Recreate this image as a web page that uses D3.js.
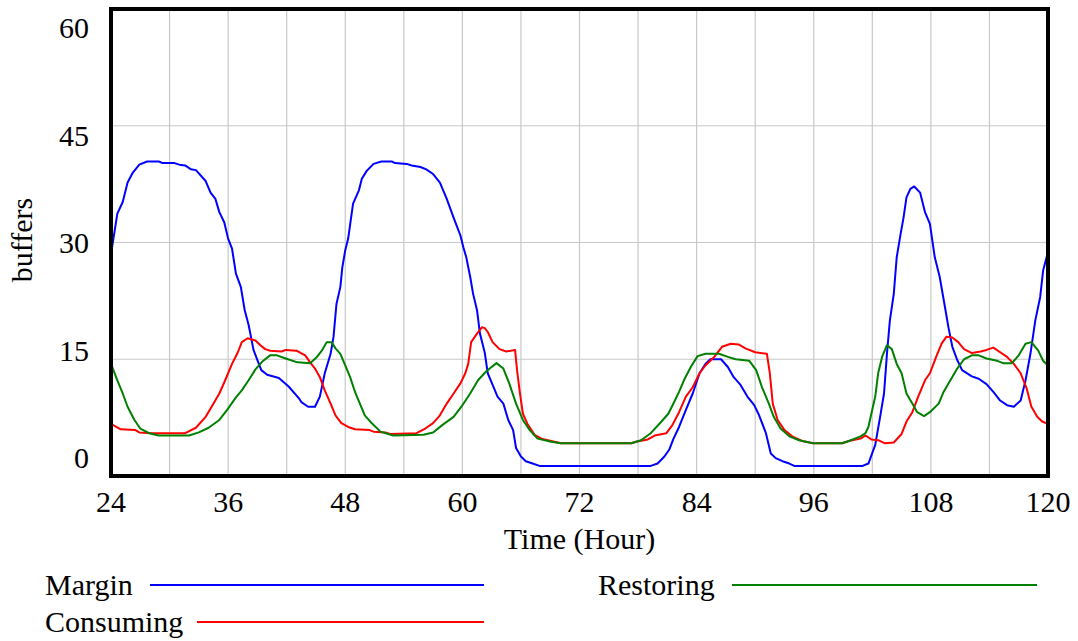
<!DOCTYPE html>
<html>
<head>
<meta charset="utf-8">
<script src="https://cdn.jsdelivr.net/npm/d3@7"></script>
<style>
  body { margin: 0; background: #fff; }
  text { font-family: "Liberation Serif", "Times New Roman", serif; fill: #000; }
</style>
</head>
<body>
<svg id="svg"></svg>
<script>
// values: [hour, buffers]
const margin = [[24,28.5],[24.65,33.7],[25.2,35.2],[25.7,37.7],[26.2,38.9],[26.9,40],[27.7,40.4],[28.9,40.4],[29.3,40.2],[30.5,40.2],[31,40],[31.6,39.9],[32.2,39.4],[32.7,39.3],[33.7,37.9],[34.2,36.4],[34.7,35.6],[35.1,33.9],[35.6,32.6],[36,30.5],[36.4,29.2],[36.8,26],[37.3,24.3],[37.7,21.3],[38.1,19.4],[38.6,16.2],[39,14.9],[39.4,13.6],[40,13],[41.2,12.6],[42.2,11.5],[43.3,9.9],[43.5,9.5],[44.2,8.9],[44.9,8.9],[45.4,10.2],[45.9,13.2],[46.5,15.7],[46.8,17.9],[47.1,22.1],[47.5,24.3],[47.7,26.8],[48,29],[48.3,30.5],[48.8,35],[49.4,36.7],[49.7,38.2],[50.2,39.2],[50.9,40.1],[51.7,40.4],[52.8,40.4],[53.1,40.2],[54.3,40.1],[54.8,39.9],[55.7,39.7],[56.3,39.4],[57,38.8],[57.7,37.7],[58.4,35.6],[59.1,33.2],[59.8,30.9],[60.1,29.4],[60.4,28.1],[60.8,25.6],[61.1,23.4],[61.5,21.3],[61.8,18.3],[62.3,15.8],[62.6,13.2],[63.1,11.7],[63.6,10.2],[64.2,9.3],[64.7,7.2],[65.2,5.9],[65.5,3.6],[66,2.5],[66.5,1.9],[67.2,1.6],[67.9,1.3],[79.3,1.3],[80,1.6],[80.7,2.5],[81.2,3.4],[81.6,4.7],[82.2,6.3],[82.9,8.5],[83.6,10.6],[84.3,13.2],[84.9,14.4],[85.4,15],[86.5,15],[87.2,14],[87.8,12.7],[88.5,11.7],[89.2,10.2],[89.9,9.1],[90.4,7.8],[91.1,5.5],[91.6,2.9],[92.1,2.3],[92.8,1.9],[93.5,1.6],[94,1.3],[101,1.3],[101.6,1.6],[102.3,4],[102.8,7.6],[103.2,10.6],[103.5,15.7],[103.8,20],[104.2,23.4],[104.5,28.1],[104.9,31.1],[105.2,33.2],[105.5,35.8],[105.9,36.9],[106.3,37.2],[106.9,36.4],[107.4,33.9],[107.9,32.4],[108.4,28.1],[108.9,25.6],[109.5,21.3],[109.8,19.1],[110.2,16.6],[110.7,14.9],[111.2,13.6],[112.2,12.8],[112.9,12.5],[113.7,11.8],[114.4,10.8],[115.1,9.7],[115.8,9.1],[116.5,8.9],[117.2,9.7],[117.7,12.3],[118.2,15.7],[118.7,20],[119.2,23],[119.5,26.4],[120,28.8]];

const consuming = [[24,6.7],[25,6],[26.5,5.9],[26.9,5.6],[28.2,5.5],[31.6,5.5],[32.7,6.2],[33.7,7.6],[34.4,9.1],[35.1,10.6],[35.7,12.3],[36.4,14.4],[37,15.9],[37.4,17.2],[38,17.7],[38.8,17.4],[39.3,16.8],[39.8,16.3],[40.3,16.1],[41.5,16],[41.9,16.2],[43,16.1],[43.9,15.5],[44.4,14.6],[44.9,13.8],[45.4,12.7],[45.9,11],[46.5,9.3],[47,7.8],[47.6,6.8],[48.3,6.3],[49,6],[50.5,5.9],[50.9,5.7],[52.1,5.6],[52.6,5.4],[55.3,5.5],[56.2,6.1],[57,6.8],[57.7,7.8],[58.4,9.3],[59.1,10.6],[59.8,11.9],[60.3,13.2],[60.6,14.4],[60.9,17.2],[61.5,18.3],[62,19.1],[62.3,19],[62.6,18.5],[63.1,17.2],[63.8,16.3],[64.5,16],[65.4,16.2],[65.6,13.6],[65.9,10.6],[66.2,8],[66.7,6.6],[67.4,5.3],[68.1,4.8],[69.1,4.5],[70.1,4.2],[77.3,4.2],[77.8,4.4],[79,4.7],[79.7,5.2],[80.9,5.5],[81.5,6.5],[82.2,8.2],[82.9,10.2],[83.6,11.4],[84.3,13.2],[84.9,14.2],[85.8,15.3],[86.6,16.6],[87.5,17],[88.3,16.9],[89,16.4],[90,15.9],[91.2,15.7],[91.5,13.2],[91.8,9.3],[92.3,7.2],[93,5.9],[93.8,5.1],[94.8,4.5],[96,4.2],[98.9,4.2],[99.6,4.5],[100.8,4.8],[101.3,5.2],[101.9,4.7],[102.6,4.6],[103.3,4.2],[104.2,4.3],[105,5.4],[105.5,7],[106.1,8.2],[106.7,10.2],[107.4,12.3],[107.9,13.2],[108.6,15.5],[109.1,17],[109.6,17.9],[110.2,17.8],[110.8,17.2],[111.4,16.3],[112.2,15.8],[113.1,16],[113.7,16.2],[114.4,16.5],[115.1,15.9],[115.8,15.3],[116.5,14.4],[117.2,13.2],[117.8,11.3],[118.3,8.9],[118.9,7.6],[119.4,7],[120,6.7]];

const restoring = [[24,14.4],[24.65,12.3],[25.2,10.6],[25.7,8.9],[26.4,7.2],[27,6.1],[27.9,5.5],[28.9,5.2],[32,5.2],[33,5.6],[34,6.2],[35.1,7.2],[35.9,8.5],[36.8,10.1],[37.4,11],[38.1,12.3],[38.8,13.7],[39.5,14.7],[40.3,15.5],[41,15.5],[41.9,15.1],[43.1,14.6],[44.4,14.5],[45.1,15.3],[45.6,16.1],[46.1,17.2],[46.6,17.2],[47,16.4],[47.5,15.7],[48,14.2],[48.5,12.7],[49,10.8],[49.5,9.3],[50,7.8],[50.7,6.8],[51.6,5.7],[52.9,5.2],[56,5.3],[57,5.6],[58,6.6],[59.1,7.6],[59.9,8.9],[60.8,10.6],[61.6,12.3],[62.4,13.4],[62.8,13.8],[63.5,14.5],[64.2,13.8],[64.8,11.9],[65.5,9.3],[66.2,7.2],[66.9,5.9],[67.7,4.8],[69.1,4.4],[70.1,4.2],[77.3,4.2],[78.3,4.6],[79.3,5.5],[80.4,7],[81.1,8],[81.7,9.5],[82.2,10.8],[82.7,12.3],[83.4,14],[84.1,15.4],[84.9,15.7],[86.3,15.7],[87.2,15.3],[88,15],[89.4,14.8],[90.1,13.6],[90.7,11.4],[91.4,9.3],[91.9,7.6],[92.6,6.1],[93.5,5.1],[94.5,4.6],[95.9,4.2],[98.9,4.2],[99.6,4.5],[100.8,5.1],[101.3,5.5],[101.6,6.3],[101.9,8],[102.3,10.2],[102.6,13.2],[103,15.3],[103.5,16.8],[104,16.3],[104.5,14.4],[105,13.2],[105.5,10.6],[106.1,9.3],[106.6,8.2],[107.3,7.7],[107.9,8.2],[108.8,9.3],[109.3,10.8],[110,12.3],[110.7,13.8],[111.4,15],[112.2,15.5],[112.9,15.5],[113.7,15.1],[114.8,14.8],[115.4,14.5],[116.3,14.5],[117,15.5],[117.7,17],[118.3,17.2],[119,16.1],[119.5,14.8],[120,14.2]];

const xTicks = [24, 36, 48, 60, 72, 84, 96, 108, 120];
const xGrid = d3.range(24, 121, 6);
const yTicks = [0, 15, 30, 45, 60];

const width = 1078;
const height = 641;
const fontSize = '30px';

const svg = d3.select('#svg')
  .attr('width', width)
  .attr('height', height);

const xScale = d3.scaleLinear().domain([24, 120]).range([111, 1048]);
const yScale = d3.scaleLinear().domain([0, 60]).range([476, 9]);
// tick labels are spread a bit tighter than the grid, like the original
const yLabelScale = d3.scaleLinear().domain([0, 60]).range([468, 38]);

// grid
const grid = svg.append('g');
grid.selectAll('.vgrid')
  .data(xGrid)
  .enter().append('line')
  .attr('x1', d => xScale(d)).attr('x2', d => xScale(d))
  .attr('y1', yScale(60)).attr('y2', yScale(0))
  .attr('stroke', '#c8c8c8').attr('stroke-width', 1.2);
grid.selectAll('.hgrid')
  .data(yTicks)
  .enter().append('line')
  .attr('x1', xScale(24)).attr('x2', xScale(120))
  .attr('y1', d => yScale(d)).attr('y2', d => yScale(d))
  .attr('stroke', '#c8c8c8').attr('stroke-width', 1.2);

// series
const line = d3.line()
  .x(d => xScale(d[0]))
  .y(d => yScale(d[1]));

const series = [
  { name: 'Margin', data: margin, color: '#0000ff' },
  { name: 'Consuming', data: consuming, color: '#ff0000' },
  { name: 'Restoring', data: restoring, color: '#008000' }
];

svg.append('g').selectAll('path')
  .data(series)
  .enter().append('path')
  .attr('d', d => line(d.data))
  .attr('fill', 'none')
  .attr('stroke', d => d.color)
  .attr('stroke-width', 2)
  .attr('stroke-linejoin', 'round');

// frame
svg.append('rect')
  .attr('x', xScale(24)).attr('y', yScale(60))
  .attr('width', xScale(120) - xScale(24))
  .attr('height', yScale(0) - yScale(60))
  .attr('fill', 'none')
  .attr('stroke', '#000')
  .attr('stroke-width', 4);

// tick labels
svg.append('g').selectAll('text')
  .data(yTicks)
  .enter().append('text')
  .attr('x', 89)
  .attr('y', d => yLabelScale(d))
  .attr('text-anchor', 'end')
  .attr('font-size', fontSize)
  .text(d => d);

svg.append('g').selectAll('text')
  .data(xTicks)
  .enter().append('text')
  .attr('x', d => xScale(d))
  .attr('y', 512)
  .attr('text-anchor', 'middle')
  .attr('font-size', fontSize)
  .text(d => d);

// axis titles
svg.append('text')
  .attr('x', (xScale(24) + xScale(120)) / 2)
  .attr('y', 549)
  .attr('text-anchor', 'middle')
  .attr('font-size', fontSize)
  .text('Time (Hour)');

svg.append('text')
  .attr('transform', 'translate(32,240) rotate(-90)')
  .attr('text-anchor', 'middle')
  .attr('font-size', fontSize)
  .text('buffers');

// legend
const legendItems = [
  { name: 'Margin', color: '#0000ff', tx: 45, x1: 150, x2: 484, y: 585 },
  { name: 'Restoring', color: '#008000', tx: 598, x1: 732, x2: 1037, y: 585 },
  { name: 'Consuming', color: '#ff0000', tx: 45, x1: 197, x2: 484, y: 622 }
];
const legend = svg.append('g');
legend.selectAll('text')
  .data(legendItems)
  .enter().append('text')
  .attr('x', d => d.tx)
  .attr('y', d => d.y + 10)
  .attr('font-size', fontSize)
  .text(d => d.name);
legend.selectAll('line')
  .data(legendItems)
  .enter().append('line')
  .attr('x1', d => d.x1).attr('x2', d => d.x2)
  .attr('y1', d => d.y).attr('y2', d => d.y)
  .attr('stroke', d => d.color)
  .attr('stroke-width', 2);
</script>
</body>
</html>
